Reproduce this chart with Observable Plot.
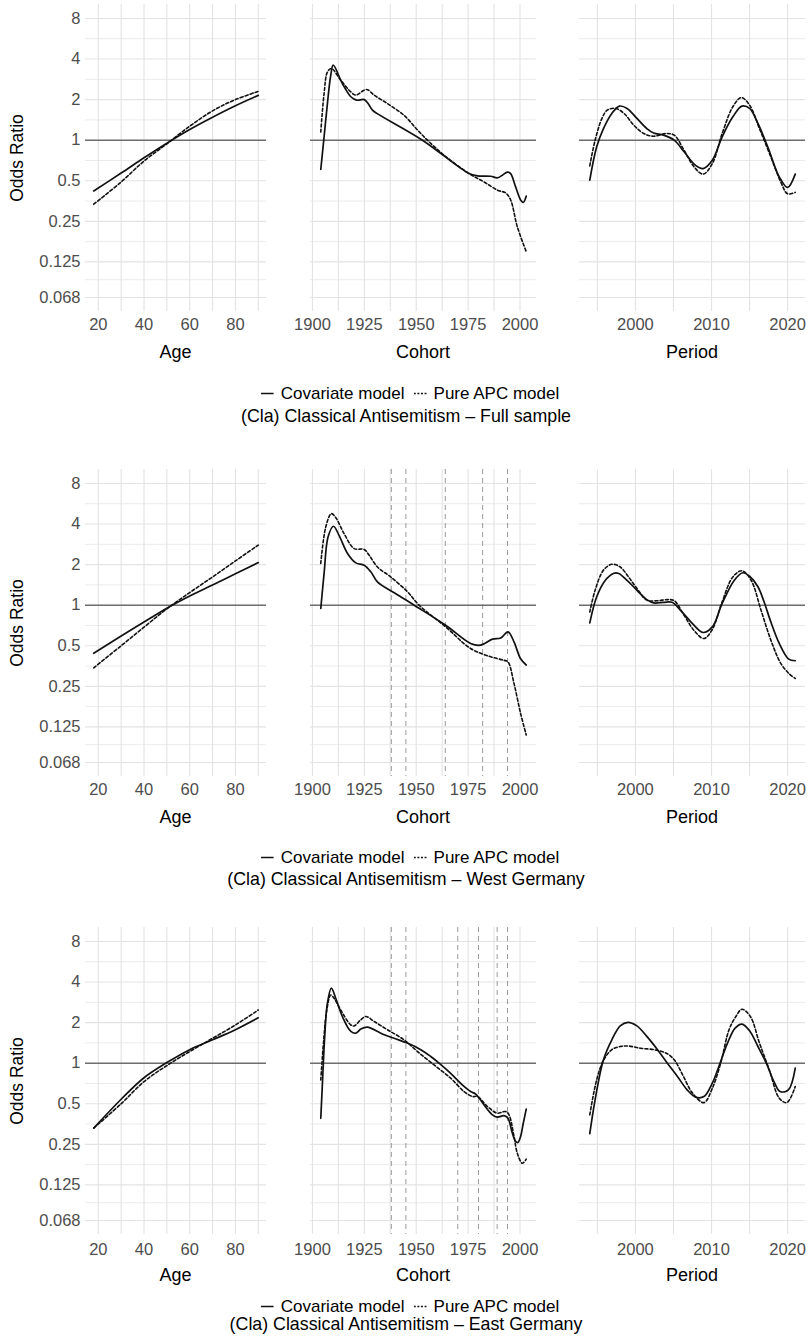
<!DOCTYPE html>
<html><head><meta charset="utf-8">
<script src="https://cdn.jsdelivr.net/npm/d3@7"></script>
<script src="https://cdn.jsdelivr.net/npm/@observablehq/plot@0.6"></script>
<style>
body{margin:0;background:#fff;font-family:"Liberation Sans",Arial,sans-serif;}
#root{position:relative;width:812px;height:1344px;overflow:hidden;background:#fff;}
.abs{position:absolute;}
.t{position:absolute;transform:translate(-50%,-50%);white-space:nowrap;color:#000;line-height:1;}
.leg{position:absolute;transform:translate(-50%,-50%);white-space:nowrap;display:flex;align-items:center;font-size:17px;color:#000;line-height:1;}
.leg svg{margin-right:7px;}
.leg span{margin-right:9px;}
</style></head><body><div id="root"></div><script>
// ---------- data ----------
const yTicks = [0.068, 0.125, 0.25, 0.5, 1, 2, 4, 8];
const ageTicks = [20, 40, 60, 80];
const cohortTicks = [1900, 1925, 1950, 1975, 2000];
const periodTicks = [2000, 2010, 2020];
const seriesNames = ["Covariate model", "Pure APC model"];
const rowTitles = [
  "(Cla) Classical Antisemitism \u2013 Full sample",
  "(Cla) Classical Antisemitism \u2013 West Germany",
  "(Cla) Classical Antisemitism \u2013 East Germany"
];

const ageX = [18, 30, 40, 50, 60, 70, 80, 90];

// Full sample
const fullAgeCov = [0.42, 0.57, 0.74, 0.95, 1.2, 1.48, 1.8, 2.15];
const fullAgeApc = [0.335, 0.49, 0.70, 0.94, 1.27, 1.65, 2.0, 2.3];
const fullCohCovX = [1904,1905.6,1907.2,1908.8,1910,1914.4,1918.5,1921.3,1924.9,1926.8,1928.9,1931,1953,1975.4,1979.5,1985.9,1989.1,1991.5,1993.9,1995.5,1997.9,2000.3,2001.6,2003];
const fullCohCov = [0.606,1.06,1.87,3.03,3.6,2.63,2.1,1.98,2.0,1.87,1.67,1.58,1.0,0.566,0.544,0.54,0.525,0.55,0.58,0.565,0.45,0.36,0.345,0.385];
const fullCohApcX = [1904,1905.6,1907.2,1909.1,1913.6,1918.5,1920.9,1924.9,1926.5,1929.7,1936.1,1944.1,1950.6,1955.4,1963.4,1975.4,1982.7,1989.1,1993.1,1995.5,1998.7,2003];
const fullCohApc = [1.15,2.22,3.2,3.4,2.79,2.28,2.16,2.35,2.37,2.16,1.87,1.53,1.19,1.0,0.774,0.566,0.49,0.426,0.406,0.36,0.228,0.149];
const fullPerCovX = [1994,1994.9,1995.8,1996.9,1997.9,1998.9,2000.2,2001.5,2002.4,2003.7,2005.1,2006.4,2007.9,2008.9,2010.1,2011.4,2012.8,2014,2015,2016.1,2017.4,2018.9,2020,2021];
const fullPerCov = [0.505,0.89,1.22,1.58,1.79,1.72,1.45,1.22,1.13,1.09,1.0,0.82,0.65,0.616,0.71,1.06,1.49,1.79,1.72,1.33,0.89,0.535,0.446,0.56];
const fullPerApcX = [1994,1994.7,1995.6,1996.3,1997.4,1998.5,1999.8,2001.1,2002.4,2004,2005.1,2006.4,2007.7,2008.9,2010.1,2011.4,2012.8,2013.9,2015,2016.3,2017.8,2019.1,2020,2021];
const fullPerApc = [0.645,1.0,1.45,1.67,1.72,1.58,1.29,1.12,1.07,1.12,1.09,0.84,0.634,0.56,0.67,1.12,1.77,2.07,1.82,1.22,0.75,0.49,0.40,0.41];

// West Germany
const westAgeCov = [0.44, 0.59, 0.75, 0.95, 1.17, 1.41, 1.71, 2.07];
const westAgeApc = [0.343, 0.50, 0.687, 0.94, 1.24, 1.62, 2.13, 2.79];
const westCohCovX = [1904,1905.6,1907.5,1910.1,1912.8,1916.9,1920.9,1924.9,1928.1,1931.3,1940,1949,1964.2,1976.2,1981,1986.7,1990.7,1994.2,1997.1,2000.3,2003];
const westCohCov = [0.945,1.72,3.2,3.85,3.3,2.42,2.06,1.98,1.77,1.49,1.22,1.0,0.71,0.52,0.505,0.56,0.57,0.634,0.535,0.40,0.36];
const westCohApcX = [1904,1906.4,1909.1,1911.2,1915.2,1920.1,1924.9,1927.3,1931.3,1937.7,1945.7,1951.4,1964.2,1976.2,1985.9,1992.3,1994.2,1997.1,2000.3,2003];
const westCohApc = [2.04,3.8,4.78,4.47,3.4,2.63,2.59,2.35,1.92,1.62,1.26,1.0,0.69,0.477,0.414,0.39,0.38,0.263,0.157,0.109];
const westPerCovX = [1994,1994.9,1996,1997.1,1997.8,1998.9,2000.2,2001.5,2002.4,2003.7,2004.8,2005.9,2007.5,2008.9,2010.1,2011.4,2013,2014.1,2015,2016.1,2016.9,2017.8,2018.9,2020.1,2021];
const westPerCov = [0.74,1.15,1.52,1.72,1.72,1.53,1.29,1.1,1.04,1.05,1.05,0.92,0.73,0.627,0.69,1.03,1.53,1.74,1.64,1.37,1.06,0.75,0.52,0.40,0.387];
const westPerApcX = [1994,1994.7,1995.8,1996.9,1998,1999.1,2000.2,2001.5,2002.9,2004.2,2005.1,2006.4,2007.7,2009,2010.1,2011.4,2012.8,2014,2015.2,2016.5,2017.8,2019.1,2020.2,2021];
const westPerApc = [0.89,1.29,1.82,2.01,1.92,1.62,1.33,1.09,1.08,1.1,1.08,0.84,0.65,0.566,0.66,1.06,1.62,1.8,1.53,0.92,0.55,0.37,0.31,0.286];
const westCohortMarkers = [1938, 1945, 1964, 1982, 1994];

// East Germany
const eastAgeCov = [0.33, 0.54, 0.78, 1.01, 1.26, 1.49, 1.77, 2.17];
const eastAgeApc = [0.33, 0.50, 0.73, 0.96, 1.22, 1.53, 1.92, 2.48];
const eastCohCovX = [1904,1904.8,1905.9,1907.2,1909.1,1911.2,1914.4,1918.5,1920.9,1923.3,1926.5,1932.9,1939.3,1945.7,1952.2,1957,1961,1966.6,1972.2,1976.2,1978.7,1982.7,1986.7,1989.1,1992.3,1994.2,1996.3,1997.9,1999,2000.3,2001.6,2003];
const eastCohCov = [0.39,0.71,1.58,2.79,3.6,3.03,2.22,1.72,1.67,1.79,1.85,1.67,1.53,1.41,1.26,1.12,1.0,0.84,0.69,0.616,0.59,0.49,0.414,0.398,0.408,0.39,0.303,0.263,0.258,0.286,0.36,0.456];
const eastCohApcX = [1904,1905.3,1906.9,1908.8,1910.4,1913.6,1918.5,1920.1,1923.3,1925.7,1929.7,1936.1,1944.1,1950.6,1958.6,1966.6,1973,1977,1979.5,1984.3,1989.1,1993.1,1994.7,1997.1,1998.7,2001.1,2003];
const eastCohApc = [0.75,1.41,2.48,3.2,3.03,2.48,1.92,1.89,2.1,2.22,2.04,1.77,1.49,1.22,0.97,0.774,0.616,0.566,0.566,0.477,0.426,0.438,0.414,0.287,0.215,0.181,0.194];
const eastPerCovX = [1994,1994.7,1995.8,1996.9,1998,1999,2000.2,2001.5,2002.9,2004.2,2005.5,2006.8,2007.9,2009,2010.1,2011.2,2012.1,2013.1,2014,2015,2016.1,2017.2,2018.2,2019,2020.1,2021];
const eastPerCov = [0.30,0.535,1.06,1.49,1.89,2.01,1.89,1.58,1.26,1.0,0.8,0.634,0.56,0.565,0.71,1.03,1.41,1.82,1.95,1.74,1.33,1.0,0.73,0.616,0.634,0.92];
const eastPerApcX = [1994,1994.9,1995.8,1996.9,1998,1999.1,2000.7,2002.4,2004,2005.1,2006.2,2007.5,2009,2010.1,2011.2,2012.3,2013.2,2014,2015.1,2016.3,2017.6,2018.9,2019.9,2021];
const eastPerApc = [0.414,0.75,1.05,1.26,1.33,1.34,1.29,1.26,1.19,1.06,0.82,0.6,0.51,0.65,1.0,1.77,2.22,2.51,2.22,1.41,0.89,0.55,0.51,0.67];
const eastCohortMarkers = [1938, 1945, 1970, 1980, 1989, 1994];

// ---------- helpers ----------
const FONT = '"Liberation Sans", Arial, sans-serif';
const zip = (xs, ys) => xs.map((x, i) => ({x, y: ys[i]}));
function expand(lo, hi, f = 0.05) { const s = hi - lo; return [lo - s * f, hi + s * f]; }
function logExpand(lo, hi, f = 0.05) { const s = Math.log2(hi / lo); return [lo / 2 ** (s * f), hi * 2 ** (s * f)]; }
function minorBetween(t) { const out = []; for (let i = 0; i < t.length - 1; i++) out.push((t[i] + t[i + 1]) / 2); return out; }
function minorLog(t) { const out = []; for (let i = 0; i < t.length - 1; i++) out.push(Math.sqrt(t[i] * t[i + 1])); return out; }

const yDomain = logExpand(0.068, 8);
const yMinor = minorLog(yTicks);

const root = document.getElementById("root");

const PANEL_H = 307;
const panels = {
  age:    {left: 85,  right: 266, ticks: ageTicks,    grid: ageTicks.concat(minorBetween(ageTicks), [90]), domain: expand(18, 90), label: "Age"},
  cohort: {left: 310, right: 536, ticks: cohortTicks, grid: cohortTicks.concat(minorBetween(cohortTicks)), domain: expand(1904, 2003), label: "Cohort"},
  period: {left: 579, right: 805, ticks: periodTicks, grid: [1995].concat(periodTicks, minorBetween(periodTicks)), domain: expand(1994, 2021), label: "Period"}
};

function drawPanel(key, top, cov, apc, markers, tickPad) {
  const p = panels[key];
  const mT = 6, mB = 34;
  const isAge = key === "age";
  const mL = isAge ? p.left : 8;
  const mR = 6;
  const w = (p.right - p.left) + mL + mR;
  const svgLeft = p.left - mL;
  const marks = [
    Plot.ruleY(yMinor, {stroke: "#ebebeb", strokeWidth: 1}),
    Plot.ruleY(yTicks, {stroke: "#e3e3e3", strokeWidth: 1.1}),
    Plot.ruleX(p.grid, {stroke: "#e3e3e3", strokeWidth: 1.1}),
  ];
  if (markers) marks.push(Plot.ruleX(markers, {stroke: "#9a9a9a", strokeWidth: 1, strokeDasharray: "5,4"}));
  marks.push(
    Plot.ruleY([1], {stroke: "#6e6e6e", strokeWidth: 1.5}),
    Plot.line(apc, {x: "x", y: "y", curve: "catmull-rom", stroke: "#111", strokeWidth: 1.6, strokeDasharray: "3,2.2"}),
    Plot.line(cov, {x: "x", y: "y", curve: "catmull-rom", stroke: "#111", strokeWidth: 1.7}),
    Plot.axisX(p.ticks, {anchor: "bottom", tickSize: 0, tickPadding: tickPad, tickFormat: d => String(d), label: null})
  );
  // y tick labels (log scale axis would hide some labels, so draw them as text at the frame's left edge)
  if (isAge) marks.push(Plot.text(yTicks, {y: d => d, frameAnchor: "left", dx: -5, textAnchor: "end", text: d => String(d), fill: "#4d4d4d"}));
  const chart = Plot.plot({
    width: w, height: mT + PANEL_H + mB,
    marginLeft: mL, marginRight: mR, marginTop: mT, marginBottom: mB,
    style: {fontFamily: FONT, fontSize: "16.5px", color: "#4d4d4d", background: "transparent", overflow: "visible"},
    x: {type: "linear", domain: p.domain, label: null},
    y: {type: "log", domain: yDomain, label: null, axis: null},
    marks
  });
  chart.classList.add("abs");
  chart.style.left = svgLeft + "px";
  chart.style.top = (top - mT) + "px";
  root.appendChild(chart);
}

function text(str, x, y, size, extra = "") {
  const d = document.createElement("div");
  d.className = "t";
  d.textContent = str;
  d.style.left = x + "px"; d.style.top = y + "px";
  d.style.fontSize = size + "px";
  if (extra) d.style.cssText += extra;
  root.appendChild(d);
  return d;
}

function legend(x, y) {
  const d = document.createElement("div");
  d.className = "leg";
  d.style.left = x + "px"; d.style.top = y + "px";
  const mk = (dash) => `<svg width="13" height="10"><line x1="0" x2="13" y1="5" y2="5" stroke="#111" stroke-width="1.6" ${dash ? 'stroke-dasharray="2,1.6"' : ''}/></svg>`;
  d.innerHTML = mk(false) + `<span>${seriesNames[0]}</span>` + mk(true) + `<span style="margin-right:0">${seriesNames[1]}</span>`;
  root.appendChild(d);
}

const rows = [
  {top: 4, tickPad: 7, axisY: 352, legendY: 393, titleY: 417,
   age: [fullAgeCov, fullAgeApc], coh: [zip(fullCohCovX, fullCohCov), zip(fullCohApcX, fullCohApc)], per: [zip(fullPerCovX, fullPerCov), zip(fullPerApcX, fullPerApc)], markers: null},
  {top: 469.3, tickPad: 7, axisY: 817, legendY: 857, titleY: 880,
   age: [westAgeCov, westAgeApc], coh: [zip(westCohCovX, westCohCov), zip(westCohApcX, westCohApc)], per: [zip(westPerCovX, westPerCov), zip(westPerApcX, westPerApc)], markers: westCohortMarkers},
  {top: 927.3, tickPad: 9, axisY: 1275, legendY: 1306, titleY: 1325,
   age: [eastAgeCov, eastAgeApc], coh: [zip(eastCohCovX, eastCohCov), zip(eastCohApcX, eastCohApc)], per: [zip(eastPerCovX, eastPerCov), zip(eastPerApcX, eastPerApc)], markers: eastCohortMarkers}
];

rows.forEach((r, i) => {
  drawPanel("age", r.top, zip(ageX, r.age[0]), zip(ageX, r.age[1]), null, r.tickPad);
  drawPanel("cohort", r.top, r.coh[0], r.coh[1], r.markers, r.tickPad);
  drawPanel("period", r.top, r.per[0], r.per[1], null, r.tickPad);
  text("Odds Ratio", 18, r.top + PANEL_H / 2, 17.5, "transform:translate(-50%,-50%) rotate(-90deg);");
  for (const k of ["age", "cohort", "period"]) {
    const p = panels[k];
    text(p.label, (p.left + p.right) / 2, r.axisY, 18);
  }
  legend(410, r.legendY);
  text(rowTitles[i], 406, r.titleY, 17.8);
});
</script></body></html>
